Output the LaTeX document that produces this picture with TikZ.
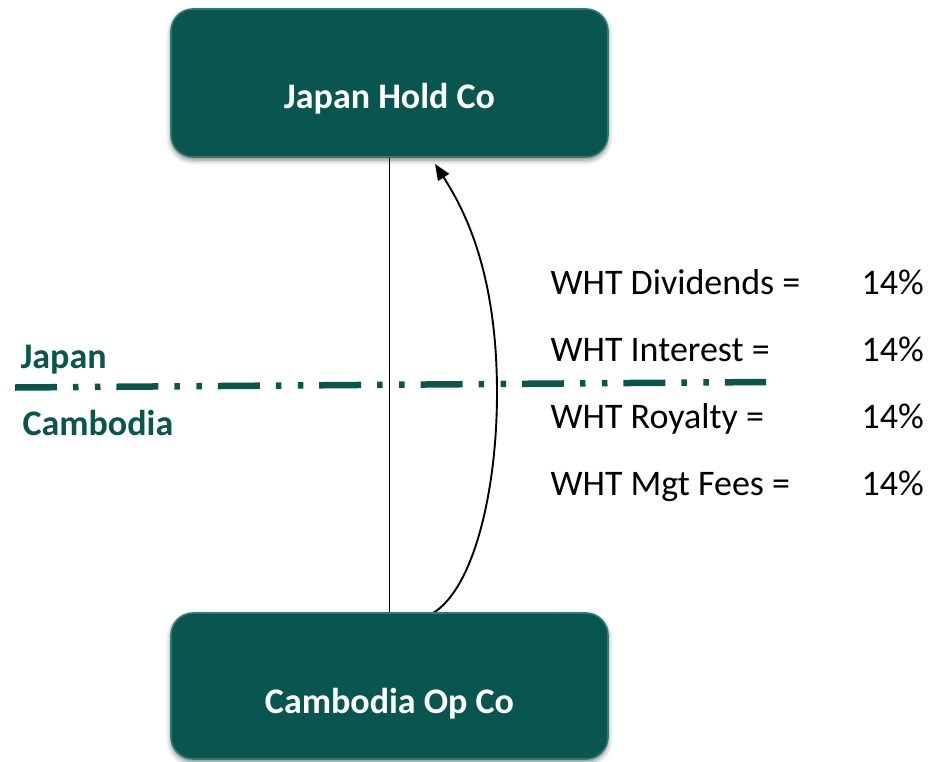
\documentclass[tikz,border=0pt]{standalone}
\usepackage{fontspec}
\setmainfont{Carlito}
\usetikzlibrary{arrows.meta,shadows.blur}

\definecolor{boxteal}{RGB}{8,86,79}
\definecolor{rimteal}{RGB}{48,122,112}
\definecolor{labelteal}{RGB}{10,86,77}

\tikzset{
  entity/.style={rectangle, rounded corners=22pt, fill=boxteal, draw=rimteal,
    line width=1.6pt, inner sep=0pt, minimum width=437pt,
    blur shadow={shadow xshift=0pt, shadow yshift=-3pt,
      shadow blur radius=5pt, shadow opacity=50}},
  entitytext/.style={anchor=base, text=white,
    font=\bfseries\fontsize{36}{40}\selectfont},
  regiontext/.style={anchor=base west, text=labelteal,
    font=\bfseries\fontsize{36}{40}\selectfont},
  ratetext/.style={anchor=base west, text=black,
    font=\fontsize{36}{40}\selectfont},
  border/.style={draw=labelteal, line width=6.5pt,
    dash pattern=on 42pt off 16pt on 5.5pt off 16.5pt on 5.5pt off 15.9pt},
  link/.style={draw=black, line width=1.9pt},
}

\begin{document}
\begin{tikzpicture}[x=1pt,y=-1pt]
\useasboundingbox (0,0) rectangle (929,761);

% links between the two companies (drawn first, under the boxes)
\coordinate (holdBot) at (389.5,158);
\coordinate (opTop) at (389.5,613);
\draw[link] (holdBot) -- (opTop);

\coordinate (arrS) at (433,613);
\coordinate (arrM) at (497,393);
\coordinate (arrE) at (435,164);
\draw[link, -{Triangle[length=16pt,width=13pt]}]
  (arrS) .. controls +(40,-24) and +(0,100) .. (arrM)
         .. controls +(0,-120) and +(30,46.5) .. (arrE);

% companies
\node[entity, minimum height=148pt] (hold) at (389.5,83) {};
\node[entitytext] (holdtxt) at (389.5,108) {Japan Hold Co};

\node[entity, minimum height=146pt] (op) at (389.5,686) {};
\node[entitytext] (optxt) at (389.5,713) {Cambodia Op Co};

% country border
\coordinate (lineL) at (15,387.5);
\coordinate (lineR) at (766,382);
\draw[border] (lineL) -- (lineR);
\node[regiontext] (jp) at (17,368) {Japan};
\node[regiontext] (kh) at (19,435) {Cambodia};

% withholding tax rates
\node[ratetext] (r1) at (547,294) {WHT Dividends =};
\node[ratetext] (r2) at (547,361) {WHT Interest =};
\node[ratetext] (r3) at (547,428) {WHT Royalty =};
\node[ratetext] (r4) at (547,495) {WHT Mgt Fees =};
\node[ratetext] (p1) at (858,294) {14\%};
\node[ratetext] (p2) at (858,361) {14\%};
\node[ratetext] (p3) at (858,428) {14\%};
\node[ratetext] (p4) at (858,495) {14\%};
\end{tikzpicture}
\end{document}
